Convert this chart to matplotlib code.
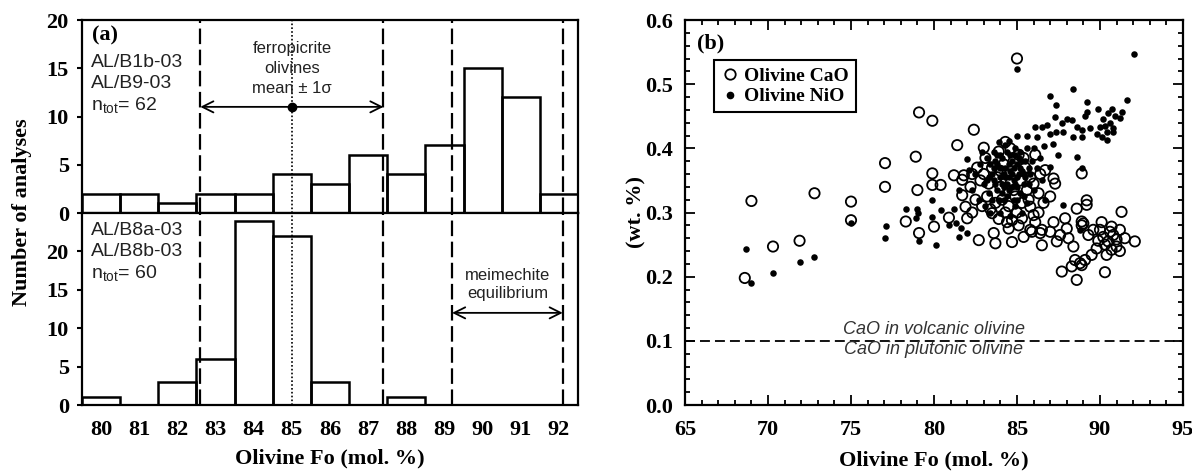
import matplotlib
matplotlib.use('Agg')
import matplotlib.pyplot as plt
from matplotlib.ticker import MultipleLocator, FormatStrFormatter
from matplotlib.lines import Line2D

# ---------------- data ----------------
fo_bins = [80, 81, 82, 83, 84, 85, 86, 87, 88, 89, 90, 91, 92]
counts_top = [2, 2, 1, 2, 2, 4, 3, 6, 4, 7, 15, 12, 2]
counts_bot = [1, 0, 3, 6, 24, 22, 3, 0, 1, 0, 0, 0, 0]
top_samples = ["AL/B1b-03", "AL/B9-03", r"n$_{\mathregular{tot}}$= 62"]
bot_samples = ["AL/B8a-03", "AL/B8b-03", r"n$_{\mathregular{tot}}$= 60"]
mean_fo = 85.0
sd_fo = 2.4
arrow_y_top = 11
meim_lo, meim_hi = 89.2, 92.1
arrow_y_bot = 12
cao_boundary = 0.1

cao_pairs = [
    (68.6, 0.198), (69.0, 0.318), (70.3, 0.247), (71.9, 0.256), (72.8, 0.330), (75.0, 0.317), (75.0, 0.288),
    (77.05, 0.377), (77.05, 0.340), (78.3, 0.286), (78.9, 0.387), (79.0, 0.335), (79.1, 0.456), (79.9, 0.443),
    (79.1, 0.268), (80.0, 0.278), (79.9, 0.361), (79.9, 0.343), (80.4, 0.343), (80.9, 0.292), (81.2, 0.358),
    (81.4, 0.405), (81.7, 0.351), (82.4, 0.429), (83.0, 0.401), (84.3, 0.410), (85.0, 0.540),
    (81.8, 0.358), (82.2, 0.340), (81.7, 0.327), (82.0, 0.291), (81.9, 0.309), (82.7, 0.257), (83.6, 0.268),
    (83.7, 0.252), (84.7, 0.254), (84.5, 0.275), (84.7, 0.288), (85.3, 0.291), (83.5, 0.299), (85.8, 0.309),
    (86.0, 0.296), (85.9, 0.270), (86.5, 0.249), (87.0, 0.270), (87.0, 0.325), (87.2, 0.353), (86.7, 0.366),
    (86.1, 0.390), (87.3, 0.345), (88.9, 0.361), (89.2, 0.319), (89.2, 0.312), (88.6, 0.306), (91.3, 0.301),
    (87.9, 0.291), (85.8, 0.273), (86.5, 0.273), (89.0, 0.283), (90.0, 0.273), (91.2, 0.273),
    (86.4, 0.268), (87.4, 0.255), (88.1, 0.260), (88.4, 0.247), (89.3, 0.265), (89.6, 0.273), (90.7, 0.278),
    (91.5, 0.260), (92.1, 0.255), (89.8, 0.244), (89.5, 0.234), (90.4, 0.234), (90.7, 0.242), (91.0, 0.247),
    (89.1, 0.226), (88.8, 0.221), (88.3, 0.216), (88.5, 0.226), (87.7, 0.208), (88.9, 0.218), (88.6, 0.195),
    (90.3, 0.207), (88.9, 0.280), (88.9, 0.286), (90.2, 0.262), (90.5, 0.255), (90.8, 0.265), (90.3, 0.250),
    (90.6, 0.270), (91.0, 0.258), (90.1, 0.285), (89.9, 0.256), (91.2, 0.240), (87.6, 0.265), (88.0, 0.275),
    (87.2, 0.285), (86.3, 0.300),
    (83.0, 0.360), (83.3, 0.345), (83.5, 0.370), (83.8, 0.355), (84.0, 0.340), (84.2, 0.375), (84.4, 0.360),
    (84.6, 0.345), (84.8, 0.380), (85.0, 0.365), (85.2, 0.350), (85.4, 0.385), (83.2, 0.325), (83.7, 0.315),
    (84.1, 0.320), (84.5, 0.310), (84.9, 0.325), (85.3, 0.315), (85.6, 0.335), (85.8, 0.355), (82.8, 0.350),
    (82.6, 0.370), (83.9, 0.395), (84.6, 0.400), (85.5, 0.370), (86.0, 0.345), (86.3, 0.330), (84.3, 0.300),
    (85.0, 0.300), (82.5, 0.320), (83.4, 0.305), (84.8, 0.335), (85.1, 0.390), (84.0, 0.365), (86.4, 0.360),
    (82.3, 0.360), (83.1, 0.385), (85.7, 0.320), (86.6, 0.315), (84.4, 0.285), (85.1, 0.280), (83.9, 0.290),
    (86.1, 0.285), (85.4, 0.262), (82.9, 0.310), (82.3, 0.300),
]

nio_pairs = [
    (68.7, 0.243), (69.0, 0.190), (70.3, 0.205), (71.9, 0.223), (72.8, 0.231), (75.0, 0.283), (77.05, 0.261),
    (77.1, 0.279), (78.3, 0.305), (79.0, 0.306), (79.05, 0.299), (78.9, 0.291), (79.1, 0.256), (79.9, 0.320),
    (79.9, 0.293), (80.1, 0.249), (80.4, 0.304), (80.9, 0.281), (81.2, 0.306), (81.5, 0.262), (81.5, 0.335),
    (81.6, 0.276), (82.0, 0.268), (81.3, 0.283), (82.1, 0.366), (82.0, 0.384),
    (85.0, 0.523), (92.05, 0.547), (88.4, 0.492), (87.0, 0.482), (91.6, 0.476), (89.2, 0.472), (87.35, 0.467),
    (89.2, 0.457), (89.9, 0.461), (87.3, 0.449), (88.0, 0.446), (88.3, 0.444), (87.7, 0.440), (86.8, 0.436),
    (86.1, 0.433), (86.5, 0.434), (87.0, 0.423), (87.35, 0.426), (87.75, 0.426), (88.6, 0.434), (88.9, 0.429),
    (88.35, 0.418), (88.9, 0.418), (89.4, 0.431), (89.8, 0.423), (90.1, 0.418), (90.4, 0.413), (90.8, 0.426),
    (86.2, 0.418), (85.6, 0.419), (85.0, 0.419), (84.5, 0.412), (86.0, 0.400), (86.6, 0.403), (87.2, 0.407),
    (87.5, 0.390), (88.6, 0.387), (88.9, 0.369), (87.0, 0.371), (89.1, 0.450), (91.3, 0.457), (91.2, 0.448),
    (90.8, 0.431), (90.0, 0.434), (90.2, 0.445), (90.5, 0.455), (90.6, 0.440), (90.9, 0.450), (90.3, 0.435),
    (90.7, 0.462), (90.4, 0.425), (87.8, 0.312), (88.8, 0.273),
    (82.5, 0.360), (82.8, 0.375), (83.0, 0.345), (83.2, 0.385), (83.3, 0.330), (83.5, 0.360), (83.6, 0.395),
    (83.7, 0.345), (83.8, 0.375), (83.9, 0.320), (84.0, 0.355), (84.1, 0.385), (84.2, 0.340), (84.3, 0.370),
    (84.4, 0.325), (84.5, 0.355), (84.6, 0.390), (84.7, 0.340), (84.8, 0.370), (84.9, 0.310), (85.0, 0.355),
    (85.1, 0.385), (85.2, 0.330), (85.3, 0.365), (85.4, 0.345), (85.5, 0.380), (85.6, 0.315), (85.8, 0.360),
    (86.0, 0.335), (86.2, 0.370), (83.1, 0.310), (83.4, 0.300), (84.0, 0.300), (84.6, 0.295), (85.3, 0.300),
    (82.7, 0.320), (82.3, 0.335), (84.9, 0.400), (84.3, 0.405), (83.9, 0.410), (85.6, 0.400), (86.4, 0.385),
    (86.5, 0.350), (86.7, 0.320), (83.6, 0.370), (84.2, 0.360), (84.7, 0.380), (85.0, 0.340), (84.4, 0.345),
    (83.8, 0.335), (85.4, 0.325), (84.0, 0.390), (85.2, 0.395), (83.3, 0.355), (82.9, 0.395),
    (83.2, 0.350), (83.4, 0.375), (83.6, 0.350), (83.8, 0.390), (84.0, 0.370), (84.1, 0.345), (84.3, 0.355),
    (84.5, 0.375), (84.5, 0.335), (84.7, 0.360), (84.8, 0.350), (84.9, 0.390), (85.0, 0.375), (85.1, 0.360),
    (85.2, 0.370), (85.3, 0.380), (85.5, 0.355), (85.7, 0.370), (85.9, 0.380), (84.2, 0.320), (84.8, 0.320),
    (83.5, 0.320), (85.0, 0.320), (85.7, 0.345), (84.4, 0.395), (83.7, 0.380), (84.6, 0.365), (85.4, 0.360),
    (84.9, 0.345), (84.1, 0.330),
]
cao_fo = [p[0] for p in cao_pairs]
cao_wt = [p[1] for p in cao_pairs]
nio_fo = [p[0] for p in nio_pairs]
nio_wt = [p[1] for p in nio_pairs]

# ---------------- style ----------------
SERIF = 'Liberation Serif'
SANS = 'Liberation Sans'
plt.rcParams['font.family'] = [SERIF, 'DejaVu Serif']
plt.rcParams['font.weight'] = 'bold'
plt.rcParams['mathtext.fontset'] = 'custom'
plt.rcParams['mathtext.rm'] = SANS
plt.rcParams['mathtext.it'] = SANS + ':italic'
TXT = '#222222'

fig = plt.figure(figsize=(11.92, 4.72), dpi=100)
axT = fig.add_axes([0.0688, 0.5487, 0.4161, 0.4089])
axB = fig.add_axes([0.0688, 0.1419, 0.4161, 0.4068])
axC = fig.add_axes([0.5747, 0.1419, 0.4177, 0.8157])

dash_long = (0, (7, 2.5))
for ax, counts, ymax in ((axT, counts_top, 20), (axB, counts_bot, 25)):
    ax.bar(fo_bins, counts, width=1.0, fill=False, edgecolor='black', linewidth=1.8, zorder=3)
    for xv in (mean_fo - sd_fo, mean_fo + sd_fo, meim_lo, meim_hi):
        ax.axvline(xv, color='black', lw=1.6, ls=dash_long, zorder=2)
    ax.axvline(mean_fo, color='black', lw=1.2, ls=(0, (1, 1.3)), zorder=2)
    ax.set_xlim(79.5, 92.5)
    ax.set_ylim(0, ymax)
    ax.set_yticks([0, 5, 10, 15, 20])
    ax.set_xticks(fo_bins)
    ax.tick_params(axis='y', direction='out', length=3.5, width=1.5, labelsize=16, pad=6)
    ax.tick_params(axis='x', length=0, labelsize=16, pad=11)
    for s in ax.spines.values():
        s.set_linewidth(1.6)
axT.tick_params(axis='x', labelbottom=False)

# panel (a) annotations
axT.text(0.02, 0.922, '(a)', transform=axT.transAxes, fontsize=16, fontweight='bold', va='center', ha='left')
for txt, yy in zip(top_samples, (0.782, 0.671, 0.560)):
    axT.text(0.0175, yy, txt, transform=axT.transAxes, fontsize=14, family=SANS, fontweight='normal',
             color=TXT, va='center', ha='left')
for txt, yy in zip(bot_samples, (0.911, 0.798, 0.688)):
    axB.text(0.0175, yy, txt, transform=axB.transAxes, fontsize=14, family=SANS, fontweight='normal',
             color=TXT, va='center', ha='left')

for txt, yy in zip(['ferropicrite', 'olivines', 'mean \u00b1 1\u03c3'], (17.0, 15.0, 12.9)):
    axT.text(mean_fo, yy, txt, fontsize=12, family=SANS, fontweight='normal', color=TXT, ha='center', va='center')
for xe in (mean_fo - sd_fo, mean_fo + sd_fo):
    axT.annotate('', xy=(xe, arrow_y_top), xytext=(mean_fo, arrow_y_top),
                 arrowprops=dict(arrowstyle='->', lw=1.3, color='black', shrinkA=0, shrinkB=0, mutation_scale=20),
                 zorder=4)
axT.plot([mean_fo], [arrow_y_top], 'o', color='black', ms=6, zorder=5)

for txt, yy in zip(['meimechite', 'equilibrium'], (16.8, 14.5)):
    axB.text((meim_lo + meim_hi) / 2, yy, txt, fontsize=12, family=SANS, fontweight='normal', color=TXT,
             ha='center', va='center')
axB.annotate('', xy=(meim_hi, arrow_y_bot), xytext=(meim_lo, arrow_y_bot),
             arrowprops=dict(arrowstyle='<->', lw=1.3, color='black', shrinkA=0, shrinkB=0, mutation_scale=20))

fig.text(0.0185, 0.551, 'Number of analyses', rotation=90, ha='center', va='center', fontsize=16, fontweight='bold')
fig.text(0.2768, 0.029, 'Olivine Fo (mol. %)', ha='center', va='center', fontsize=16, fontweight='bold')

# ---------------- panel (b) ----------------
axC.scatter(cao_fo, cao_wt, s=55, facecolors='none', edgecolors='black', linewidths=1.3, zorder=3)
axC.scatter(nio_fo, nio_wt, s=22, c='black', linewidths=0, zorder=4)
axC.axhline(cao_boundary, color='black', lw=1.3, ls=(0, (5.5, 2.8)), zorder=2)
axC.text(80.0, cao_boundary + 0.004, 'CaO in volcanic olivine', ha='center', va='bottom', style='italic',
         family=SANS, fontweight='normal', fontsize=13, color='#333333')
axC.text(80.0, cao_boundary + 0.0005, 'CaO in plutonic olivine', ha='center', va='top', style='italic',
         family=SANS, fontweight='normal', fontsize=13, color='#333333')

axC.set_xlim(65, 95)
axC.set_ylim(0, 0.6)
axC.xaxis.set_major_locator(MultipleLocator(5))
axC.xaxis.set_minor_locator(MultipleLocator(1))
axC.yaxis.set_major_locator(MultipleLocator(0.1))
axC.yaxis.set_minor_locator(MultipleLocator(0.02))
axC.yaxis.set_major_formatter(FormatStrFormatter('%.1f'))
axC.tick_params(which='both', direction='in', top=True, right=True, width=1.3)
axC.tick_params(which='major', length=7, labelsize=16)
axC.tick_params(which='minor', length=3.5)
axC.tick_params(axis='x', which='major', pad=11)
axC.tick_params(axis='y', which='major', pad=9)
for s in axC.spines.values():
    s.set_linewidth(1.6)

axC.text(0.024, 0.94, '(b)', transform=axC.transAxes, fontsize=16, fontweight='bold', va='center', ha='left')

handles = [
    Line2D([], [], marker='o', ls='none', ms=7.5, mfc='none', mec='black', mew=1.3, label='Olivine CaO'),
    Line2D([], [], marker='o', ls='none', ms=4.5, mfc='black', mec='black', label='Olivine NiO'),
]
leg = axC.legend(handles=handles, loc='upper left', bbox_to_anchor=(0.058, 0.895), frameon=True, fancybox=False,
                 framealpha=1, edgecolor='black', prop={'family': SERIF, 'weight': 'bold', 'size': 14},
                 handletextpad=0.2, handlelength=1.0, borderpad=0.35, labelspacing=0.15, borderaxespad=0)
leg.get_frame().set_linewidth(1.5)

fig.text(0.5336, 0.551, '(wt. %)', rotation=90, ha='center', va='center', fontsize=16, fontweight='bold')
fig.text(0.7836, 0.025, 'Olivine Fo (mol. %)', ha='center', va='center', fontsize=16, fontweight='bold')

fig.savefig('out.png', dpi=100)
